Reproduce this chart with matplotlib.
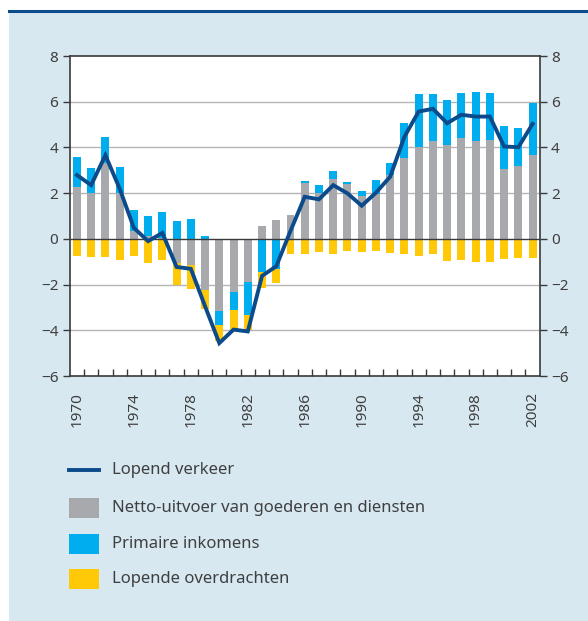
import numpy as np
import matplotlib
matplotlib.use("Agg")
import matplotlib.pyplot as plt
from matplotlib.patches import Rectangle
from matplotlib.lines import Line2D

plt.rcParams['font.family'] = ['Noto Sans', 'DejaVu Sans']

years = list(range(1970, 2003))
netto_uitvoer = [2.28, 1.99, 3.31, 1.99, 0.34, 0.12, 0.02, -1.05, -1.15, -2.22,
                 -3.17, -2.34, -1.90, 0.56, 0.82, 1.04, 2.44, 1.99, 2.62, 2.41,
                 1.89, 1.96, 2.79, 3.55, 4.02, 4.30, 4.11, 4.42, 4.30, 4.33,
                 3.07, 3.19, 3.67]
primaire_inkomens = [1.30, 1.11, 1.15, 1.15, 0.92, 0.88, 1.15, 0.78, 0.89, 0.12,
                     -0.62, -0.79, -1.45, -1.45, -1.30, 0.0, 0.09, 0.36, 0.35, 0.08,
                     0.20, 0.61, 0.53, 1.52, 2.33, 2.05, 1.97, 1.97, 2.13, 2.06,
                     1.87, 1.65, 2.28]
overdrachten = [-0.76, -0.80, -0.80, -0.93, -0.76, -1.05, -0.93, -0.95, -1.04, -0.85,
                -0.66, -0.84, -0.62, -0.70, -0.63, -0.66, -0.66, -0.58, -0.66, -0.54,
                -0.58, -0.53, -0.61, -0.66, -0.75, -0.66, -0.96, -0.92, -1.01, -1.01,
                -0.88, -0.83, -0.83]
lopend_verkeer = [2.79, 2.35, 3.66, 2.20, 0.48, -0.10, 0.26, -1.23, -1.31, -2.95,
                  -4.56, -3.97, -4.05, -1.62, -1.20, 0.35, 1.84, 1.73, 2.35, 1.99,
                  1.45, 2.02, 2.72, 4.47, 5.57, 5.69, 5.06, 5.43, 5.35, 5.35,
                  4.04, 4.01, 5.03]
year_labels = [1970, 1974, 1978, 1982, 1986, 1990, 1994, 1998, 2002]

GRAY = '#a7a9ac'
BLUE = '#00aeef'
YELLOW = '#ffc907'
LINE = '#0b4a8b'
PANEL = '#d7e8f1'
TEXT = '#3f3f3f'

fig = plt.figure(figsize=(5.88, 6.21), dpi=100)
fig.patch.set_facecolor('white')
# light-blue panel and top rule
fig.add_artist(Rectangle((9/588, 0), 1 - 9/588, 1 - 12/621, transform=fig.transFigure,
                         facecolor=PANEL, edgecolor='none', zorder=0))
fig.add_artist(Line2D([9/588, 1], [1 - 11/621, 1 - 11/621], transform=fig.transFigure,
                      color='#0b4a8b', lw=2.2, zorder=1))

ax = fig.add_axes([69.5/588, 1 - 376/621, (540 - 69.5)/588, (376 - 56)/621])
ax.set_facecolor('white')
x = np.arange(len(years))
w = 0.56
pos_base = np.zeros(len(years))
neg_base = np.zeros(len(years))
for vals, col in [(netto_uitvoer, GRAY), (primaire_inkomens, BLUE), (overdrachten, YELLOW)]:
    v = np.array(vals)
    bottoms = np.where(v >= 0, pos_base, neg_base)
    ax.bar(x, v, w, bottom=bottoms, color=col, zorder=3, linewidth=0)
    pos_base = pos_base + np.where(v >= 0, v, 0)
    neg_base = neg_base + np.where(v < 0, v, 0)

ax.plot(x, lopend_verkeer, color=LINE, lw=2.8, zorder=5, solid_joinstyle='miter')

ax.set_ylim(-6, 8)
ax.set_xlim(-0.52, len(years) - 0.48)
for yv in [-4, -2, 2, 4, 6]:
    ax.axhline(yv, color='#b5b5b5', lw=1.0, zorder=1)
ax.axhline(0, color='#3a3a3a', lw=1.0, zorder=4)

ax.set_yticks(range(-6, 9, 2))
ax.set_yticklabels([('\u2212' + str(-t)) if t < 0 else str(t) for t in range(-6, 9, 2)])
ax.tick_params(axis='y', which='both', direction='out', length=5, width=1,
               color='#3a3a3a', labelsize=11, labelcolor=TEXT, left=True, right=True,
               labelleft=True, labelright=True, pad=3)

ax.set_xticks([years.index(yv) for yv in year_labels])
ax.set_xticklabels([str(yv) for yv in year_labels], rotation=90)
ax.set_xticks(np.arange(len(years) - 1) + 0.5, minor=True)
ax.tick_params(axis='x', which='major', length=0, labelsize=11, labelcolor=TEXT, pad=11.5)
ax.tick_params(axis='x', which='minor', direction='in', length=5, width=1, color='#3a3a3a')

for s in ax.spines.values():
    s.set_color('#3a3a3a')
    s.set_linewidth(1.2)

# legend
lx0, lx1, tx = 69/588, 99/588, 112/588
rows = [470, 508, 544, 579]
labels = ['Lopend verkeer', 'Netto-uitvoer van goederen en diensten',
          'Primaire inkomens', 'Lopende overdrachten']
fig.add_artist(Line2D([lx0, lx1], [1 - rows[0]/621] * 2, transform=fig.transFigure,
                      color=LINE, lw=2.8))
for r, col in zip(rows[1:], [GRAY, BLUE, YELLOW]):
    fig.add_artist(Rectangle((lx0, 1 - (r + 10)/621), 30/588, 20/621,
                             transform=fig.transFigure, facecolor=col, edgecolor='none'))
for r, lab in zip(rows, labels):
    fig.text(tx, 1 - r/621, lab, fontsize=12, color=TEXT, va='center', ha='left')

fig.savefig('out.png', dpi=100)
